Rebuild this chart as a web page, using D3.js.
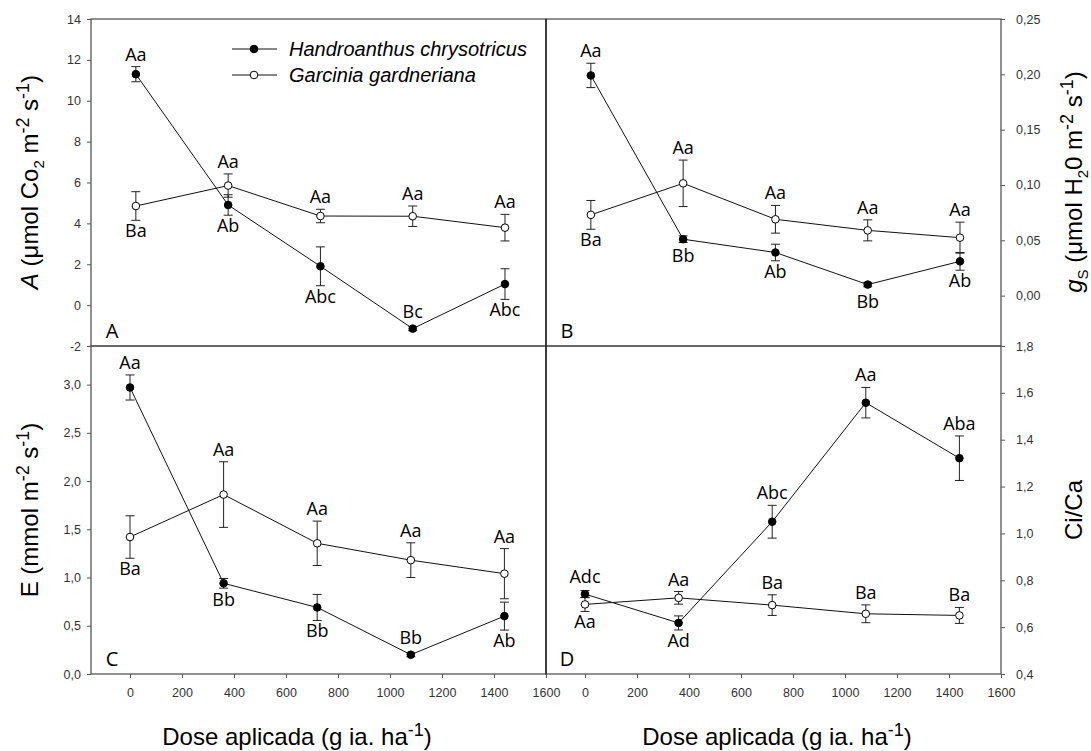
<!DOCTYPE html>
<html lang="pt">
<head>
<meta charset="utf-8">
<script src="https://cdn.jsdelivr.net/npm/d3@7"></script>
<title>Fotossintese</title>
<style>
  body { margin: 0; background: #fff; }
</style>
</head>
<body>
<svg id="chart" width="1091" height="751"></svg>
<script>
// doses (g ia. ha-1)
var doses = [0, 360, 720, 1080, 1440];
var xTicks = [0, 200, 400, 600, 800, 1000, 1200, 1400, 1600];

// painel A - fotossintese liquida
var aHand = [11.3, 4.9, 1.9, -1.15, 1.03];
var aHandErr = [0.37, 0.5, 0.95, 0.1, 0.75];
var aGarc = [4.85, 5.85, 4.36, 4.35, 3.79];
var aGarcErr = [0.7, 0.57, 0.33, 0.5, 0.65];
var aHandLab = ["Aa", "Ab", "Abc", "Bc", "Abc"];
var aGarcLab = ["Ba", "Aa", "Aa", "Aa", "Aa"];
var aHandSide = ["up", "down", "down", "up", "down"];
var aGarcSide = ["down", "up", "up", "up", "up"];
var aTicks = [-2, 0, 2, 4, 6, 8, 10, 12, 14];

// painel B - condutancia estomatica
var bHand = [0.199, 0.051, 0.039, 0.010, 0.031];
var bHandErr = [0.011, 0.003, 0.0075, 0.002, 0.008];
var bGarc = [0.073, 0.1015, 0.069, 0.059, 0.0524];
var bGarcErr = [0.013, 0.021, 0.0125, 0.0095, 0.014];
var bHandLab = ["Aa", "Bb", "Ab", "Bb", "Ab"];
var bGarcLab = ["Ba", "Aa", "Aa", "Aa", "Aa"];
var bHandSide = ["up", "down", "down", "down", "down"];
var bGarcSide = ["down", "up", "up", "up", "up"];
var bTicks = [0, 0.05, 0.10, 0.15, 0.20, 0.25];

// painel C - transpiracao
var cHand = [2.97, 0.94, 0.69, 0.20, 0.60];
var cHandErr = [0.13, 0.05, 0.135, 0.02, 0.145];
var cGarc = [1.42, 1.86, 1.355, 1.18, 1.04];
var cGarcErr = [0.22, 0.34, 0.23, 0.18, 0.26];
var cHandLab = ["Aa", "Bb", "Bb", "Bb", "Ab"];
var cGarcLab = ["Ba", "Aa", "Aa", "Aa", "Aa"];
var cHandSide = ["up", "down", "down", "up", "down"];
var cGarcSide = ["down", "up", "up", "up", "up"];
var cTicks = [0, 0.5, 1.0, 1.5, 2.0, 2.5, 3.0];

// painel D - Ci/Ca
var dHand = [0.741, 0.618, 1.05, 1.558, 1.321];
var dHandErr = [0.015, 0.03, 0.07, 0.065, 0.095];
var dGarc = [0.697, 0.725, 0.694, 0.657, 0.65];
var dGarcErr = [0.03, 0.027, 0.044, 0.038, 0.034];
var dHandLab = ["Adc", "Ad", "Abc", "Aa", "Aba"];
var dGarcLab = ["Aa", "Aa", "Ba", "Ba", "Ba"];
var dHandSide = ["up", "down", "up", "up", "up"];
var dGarcSide = ["down", "up", "up", "up", "up"];
var dTicks = [0.4, 0.6, 0.8, 1.0, 1.2, 1.4, 1.6, 1.8];

var species = ["Handroanthus chrysotricus", "Garcinia gardneriana"];

var svg = d3.select("#chart");
var labelFont = "'Open Sans', 'Noto Sans', sans-serif";
var axisFont = "'Liberation Sans', Arial, sans-serif";

// virgula decimal e hifen simples
var comma = function (f) {
  return function (d) { return d3.format(f)(d).replace(".", ",").replace("\u2212", "-"); };
};

var L = 91, M = 546, R = 1001, T = 19, H = 346, B = 674;

var panels = [
  { id: "A", x: [L, M], y: [T, H], xd: [-175, 1600], yd: [-2, 14], side: "left", ticks: aTicks, fmt: comma("d"),
    hand: aHand, handErr: aHandErr, garc: aGarc, garcErr: aGarcErr,
    handLab: aHandLab, garcLab: aGarcLab, handSide: aHandSide, garcSide: aGarcSide },
  { id: "B", x: [M, R], y: [T, H], xd: [-175, 1600], yd: [-0.0455, 0.25], side: "right", ticks: bTicks, fmt: comma(".2f"),
    hand: bHand, handErr: bHandErr, garc: bGarc, garcErr: bGarcErr,
    handLab: bHandLab, garcLab: bGarcLab, handSide: bHandSide, garcSide: bGarcSide },
  { id: "C", x: [L, M], y: [H, B], xd: [-150, 1600], yd: [0, 3.4], side: "left", ticks: cTicks, fmt: comma(".1f"), xaxis: true,
    hand: cHand, handErr: cHandErr, garc: cGarc, garcErr: cGarcErr,
    handLab: cHandLab, garcLab: cGarcLab, handSide: cHandSide, garcSide: cGarcSide },
  { id: "D", x: [M, R], y: [H, B], xd: [-150, 1600], yd: [0.4, 1.8], side: "right", ticks: dTicks, fmt: comma(".1f"), xaxis: true,
    hand: dHand, handErr: dHandErr, garc: dGarc, garcErr: dGarcErr,
    handLab: dHandLab, garcLab: dGarcLab, handSide: dHandSide, garcSide: dGarcSide }
];

function styleAxis(g) {
  g.select(".domain").remove();
  g.selectAll("line").attr("stroke", "#555");
  g.selectAll("text").attr("fill", "#333").style("font-family", axisFont).style("font-size", "12.5px");
}

function drawPanel(p) {
  var x = d3.scaleLinear().domain(p.xd).range(p.x);
  var y = d3.scaleLinear().domain(p.yd).range([p.y[1], p.y[0]]);
  var g = svg.append("g").attr("id", "panel" + p.id);

  // eixo y
  var ay = p.side == "left" ? d3.axisLeft(y) : d3.axisRight(y);
  ay.tickValues(p.ticks).tickFormat(p.fmt).tickSize(4).tickPadding(p.side == "left" ? 6 : 11);
  g.append("g")
    .attr("transform", "translate(" + (p.side == "left" ? p.x[0] : p.x[1]) + ",0)")
    .call(ay).call(styleAxis);

  if (p.xaxis) {
    var ax = d3.axisBottom(x).tickValues(xTicks).tickFormat(d3.format("d")).tickSize(4).tickPadding(10);
    g.append("g").attr("transform", "translate(0," + p.y[1] + ")").call(ax).call(styleAxis);
  }

  // moldura
  g.append("rect")
    .attr("x", p.x[0]).attr("y", p.y[0])
    .attr("width", p.x[1] - p.x[0]).attr("height", p.y[1] - p.y[0])
    .attr("fill", "none").attr("stroke", "#555").attr("stroke-width", 1.3);

  var series = [
    { v: p.garc, e: p.garcErr, lab: p.garcLab, side: p.garcSide, fill: "#fff" },
    { v: p.hand, e: p.handErr, lab: p.handLab, side: p.handSide, fill: "#000" }
  ];

  var line = d3.line().x(function (d, i) { return x(doses[i]); }).y(function (d) { return y(d); });

  series.forEach(function (s) {
    g.append("path").attr("d", line(s.v)).attr("fill", "none").attr("stroke", "#111").attr("stroke-width", 1);
  });

  series.forEach(function (s) {
    var eb = g.append("g").attr("stroke", "#222").attr("stroke-width", 1);
    s.v.forEach(function (v, i) {
      var cx = x(doses[i]), top = y(v + s.e[i]), bot = y(v - s.e[i]);
      eb.append("line").attr("x1", cx).attr("x2", cx).attr("y1", top).attr("y2", bot);
      eb.append("line").attr("x1", cx - 4.5).attr("x2", cx + 4.5).attr("y1", top).attr("y2", top);
      eb.append("line").attr("x1", cx - 4.5).attr("x2", cx + 4.5).attr("y1", bot).attr("y2", bot);
    });
  });

  series.forEach(function (s) {
    g.selectAll(null).data(s.v).enter().append("circle")
      .attr("cx", function (d, i) { return x(doses[i]); })
      .attr("cy", function (d) { return y(d); })
      .attr("r", 3.8)
      .attr("fill", s.fill).attr("stroke", "#000").attr("stroke-width", 1);
  });

  // letras de significancia
  series.forEach(function (s) {
    g.selectAll(null).data(s.v).enter().append("text")
      .attr("x", function (d, i) { return x(doses[i]); })
      .attr("y", function (d, i) {
        if (s.side[i] == "up") return Math.min(y(d) - 18, y(d + s.e[i]) - 13);
        return Math.max(y(d) + 16, y(d - s.e[i]) + 10);
      })
      .attr("text-anchor", "middle").attr("dominant-baseline", "central")
      .style("font-family", labelFont).style("font-size", "18px").attr("fill", "#000")
      .text(function (d, i) { return s.lab[i]; });
  });

  g.append("text")
    .attr("x", p.x[0] + 21).attr("y", p.y[1] - 16)
    .attr("text-anchor", "middle").attr("dominant-baseline", "central")
    .style("font-family", labelFont).style("font-size", "20px")
    .text(p.id);
}

panels.forEach(drawPanel);

// divisoria vertical
svg.append("line").attr("x1", M).attr("x2", M).attr("y1", T).attr("y2", B)
  .attr("stroke", "#111").attr("stroke-width", 1);

// legenda
var leg = svg.append("g");
species.forEach(function (name, i) {
  var ly = 49 + i * 26;
  leg.append("line").attr("x1", 232).attr("x2", 277).attr("y1", ly).attr("y2", ly)
    .attr("stroke", "#111").attr("stroke-width", 1);
  leg.append("circle").attr("cx", 254).attr("cy", ly).attr("r", 3.8)
    .attr("fill", i == 0 ? "#000" : "#fff").attr("stroke", "#000");
  leg.append("text").attr("x", 289).attr("y", ly).attr("dominant-baseline", "central")
    .style("font-family", axisFont).style("font-size", "20px").style("font-style", "italic")
    .text(name);
});

// titulos com sub/sobrescritos
function richText(sel, parts) {
  var shift = 0;
  parts.forEach(function (pt) {
    var dy = 0, size = null;
    if (pt[1] == "sup") { dy = -9 - shift; shift = -9; size = "18px"; }
    else if (pt[1] == "sub") { dy = 6 - shift; shift = 6; size = "15px"; }
    else { dy = -shift; shift = 0; }
    var t = sel.append("tspan").attr("dy", dy).text(pt[0]);
    if (size) t.style("font-size", size);
    if (pt[1] == "it") t.style("font-style", "italic");
  });
}

function title(x, y, rot, parts) {
  var t = svg.append("text")
    .attr("transform", "translate(" + x + "," + y + ")" + (rot ? " rotate(-90)" : ""))
    .attr("text-anchor", "middle")
    .style("font-family", axisFont).style("font-size", "24px").attr("fill", "#000");
  richText(t, parts);
}

title(38, 182, true, [["A", "it"], [" (\u03bcmol Co", ""], ["2", "sub"], [" m", ""], ["-2", "sup"], [" s", ""], ["-1", "sup"], [")", ""]]);
title(38, 510, true, [["E (mmol m", ""], ["-2", "sup"], [" s", ""], ["-1", "sup"], [")", ""]]);
title(1082, 182, true, [["g", "it"], ["S", "sub"], [" (\u03bcmol H", ""], ["2", "sub"], ["0 m", ""], ["-2", "sup"], [" s", ""], ["-1", "sup"], [")", ""]]);
title(1082, 510, true, [["Ci/Ca", ""]]);
title(297, 745, false, [["Dose aplicada (g ia. ha", ""], ["-1", "sup"], [")", ""]]);
title(777, 745, false, [["Dose aplicada (g ia. ha", ""], ["-1", "sup"], [")", ""]]);
</script>
</body>
</html>
